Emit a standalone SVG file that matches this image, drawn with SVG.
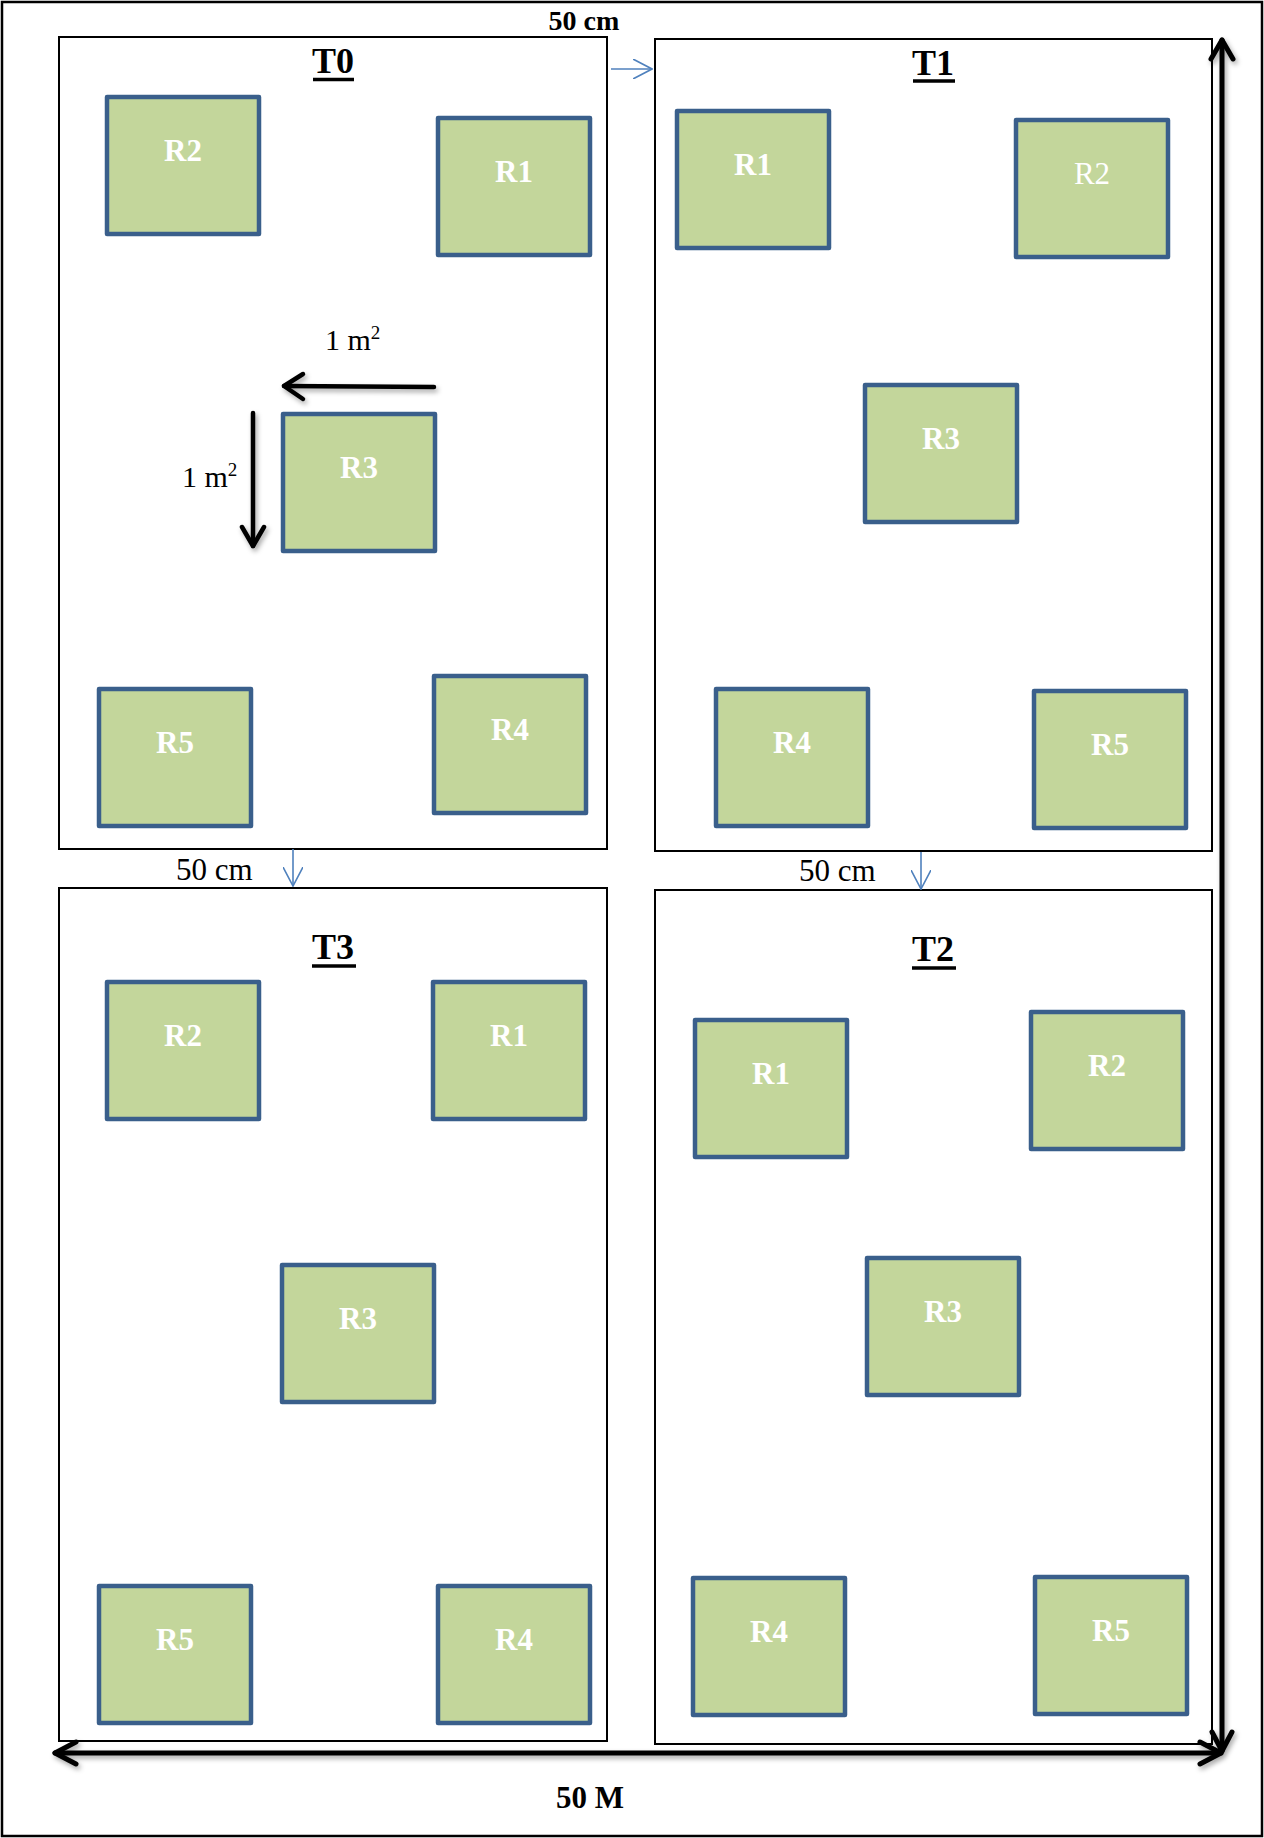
<svg xmlns="http://www.w3.org/2000/svg" width="1264" height="1838" viewBox="0 0 1264 1838">
<style>
.plot{fill:#ffffff;stroke:#000000;stroke-width:2}
.r{fill:#C3D69B;stroke:#3A5F8B;stroke-width:4.5;stroke-linejoin:round}
.rl{font-family:"Liberation Serif","Times New Roman",serif;font-size:31px;font-weight:bold;fill:#ffffff;text-anchor:middle}
.rn{font-weight:normal}
.title{font-family:"Liberation Serif","Times New Roman",serif;font-size:36px;font-weight:bold;fill:#000000;text-anchor:middle}
.ul{stroke:#000000;stroke-width:3.5}
.lab{font-family:"Liberation Serif","Times New Roman",serif;font-size:31px;fill:#000000}
.labb{font-family:"Liberation Serif","Times New Roman",serif;font-size:28px;font-weight:bold;fill:#000000}
.blue{stroke:#4F81BD;stroke-width:1.6;fill:none}
.big{stroke:#000000;stroke-width:5;fill:none;stroke-linecap:round;stroke-linejoin:round}
.mid{stroke:#000000;stroke-width:4.5;fill:none;stroke-linecap:round;stroke-linejoin:round}
</style>
<defs>
<marker id="bh" viewBox="0 0 20 20" refX="19" refY="10" markerWidth="20" markerHeight="20" markerUnits="userSpaceOnUse" orient="auto">
<path d="M0,0 L19,10 L0,20" fill="none" stroke="#4F81BD" stroke-width="1.6"/>
</marker>
<filter id="sh" x="-10%" y="-10%" width="120%" height="120%">
<feDropShadow dx="2" dy="3" stdDeviation="2.5" flood-color="#000000" flood-opacity="0.35"/>
</filter>
</defs>
<rect x="2" y="2" width="1260" height="1834" fill="#ffffff" stroke="#000000" stroke-width="2.5"/>

<g id="plot-T0">
<rect class="plot" x="59" y="37" width="548" height="812"/>
<text class="title" x="333" y="73">T0</text>
<line class="ul" x1="313" y1="79.5" x2="354" y2="79.5"/>
</g>
<g id="plot-T1">
<rect class="plot" x="655" y="39" width="557" height="812"/>
<text class="title" x="933" y="75">T1</text>
<line class="ul" x1="913" y1="81" x2="955" y2="81"/>
</g>
<g id="plot-T3">
<rect class="plot" x="59" y="888" width="548" height="853"/>
<text class="title" x="333" y="959">T3</text>
<line class="ul" x1="312" y1="966" x2="356" y2="966"/>
</g>
<g id="plot-T2">
<rect class="plot" x="655" y="890" width="557" height="854"/>
<text class="title" x="933" y="961">T2</text>
<line class="ul" x1="912" y1="968" x2="956" y2="968"/>
</g>

<g id="T0-R2"><rect class="r" x="107" y="97" width="152" height="137"/><text class="rl" x="183" y="161">R2</text></g>
<g id="T0-R1"><rect class="r" x="438" y="118" width="152" height="137"/><text class="rl" x="514" y="182">R1</text></g>
<g id="T0-R3"><rect class="r" x="283" y="414" width="152" height="137"/><text class="rl" x="359" y="478">R3</text></g>
<g id="T0-R5"><rect class="r" x="99" y="689" width="152" height="137"/><text class="rl" x="175" y="753">R5</text></g>
<g id="T0-R4"><rect class="r" x="434" y="676" width="152" height="137"/><text class="rl" x="510" y="740">R4</text></g>

<g id="T1-R1"><rect class="r" x="677" y="111" width="152" height="137"/><text class="rl" x="753" y="175">R1</text></g>
<g id="T1-R2"><rect class="r" x="1016" y="120" width="152" height="137"/><text class="rl rn" x="1092" y="184">R2</text></g>
<g id="T1-R3"><rect class="r" x="865" y="385" width="152" height="137"/><text class="rl" x="941" y="449">R3</text></g>
<g id="T1-R4"><rect class="r" x="716" y="689" width="152" height="137"/><text class="rl" x="792" y="753">R4</text></g>
<g id="T1-R5"><rect class="r" x="1034" y="691" width="152" height="137"/><text class="rl" x="1110" y="755">R5</text></g>

<g id="T3-R2"><rect class="r" x="107" y="982" width="152" height="137"/><text class="rl" x="183" y="1046">R2</text></g>
<g id="T3-R1"><rect class="r" x="433" y="982" width="152" height="137"/><text class="rl" x="509" y="1046">R1</text></g>
<g id="T3-R3"><rect class="r" x="282" y="1265" width="152" height="137"/><text class="rl" x="358" y="1329">R3</text></g>
<g id="T3-R5"><rect class="r" x="99" y="1586" width="152" height="137"/><text class="rl" x="175" y="1650">R5</text></g>
<g id="T3-R4"><rect class="r" x="438" y="1586" width="152" height="137"/><text class="rl" x="514" y="1650">R4</text></g>

<g id="T2-R1"><rect class="r" x="695" y="1020" width="152" height="137"/><text class="rl" x="771" y="1084">R1</text></g>
<g id="T2-R2"><rect class="r" x="1031" y="1012" width="152" height="137"/><text class="rl" x="1107" y="1076">R2</text></g>
<g id="T2-R3"><rect class="r" x="867" y="1258" width="152" height="137"/><text class="rl" x="943" y="1322">R3</text></g>
<g id="T2-R4"><rect class="r" x="693" y="1578" width="152" height="137"/><text class="rl" x="769" y="1642">R4</text></g>
<g id="T2-R5"><rect class="r" x="1035" y="1577" width="152" height="137"/><text class="rl" x="1111" y="1641">R5</text></g>

<g id="labels">
<text class="labb" x="584" y="30" text-anchor="middle">50 cm</text>
<text class="lab" x="176" y="880">50 cm</text>
<text class="lab" x="799" y="881">50 cm</text>
<text class="labb" x="590" y="1808" text-anchor="middle" style="font-size:31px">50 M</text>
<text class="lab" x="325" y="350" style="font-size:30px">1 m<tspan font-size="19" dy="-11">2</tspan></text>
<text class="lab" x="182" y="487" style="font-size:30px">1 m<tspan font-size="19" dy="-11">2</tspan></text>
</g>

<g id="connectors">
<line class="blue" x1="611" y1="69" x2="652" y2="69" marker-end="url(#bh)"/>
<line class="blue" x1="293" y1="849" x2="293" y2="886" marker-end="url(#bh)"/>
<line class="blue" x1="921" y1="852" x2="921" y2="889" marker-end="url(#bh)"/>
<g filter="url(#sh)">
<path class="mid" d="M434,387 L284,386"/>
<path class="mid" d="M303,374 L284,386 L303,399"/>
<path class="mid" d="M253,413 L253,546"/>
<path class="mid" d="M242,527 L253,546 L264,527"/>
<path class="big" d="M1222,40 L1222,1751"/>
<path class="big" d="M1211,59 L1222,40 L1233,59"/>
<path class="big" d="M1212,1732 L1222,1751 L1232,1732"/>
<path class="big" d="M55,1753 L1221,1753"/>
<path class="big" d="M76,1742 L55,1753 L76,1764"/>
<path class="big" d="M1200,1742 L1221,1753 L1200,1764"/>
</g>
</g>
</svg>
